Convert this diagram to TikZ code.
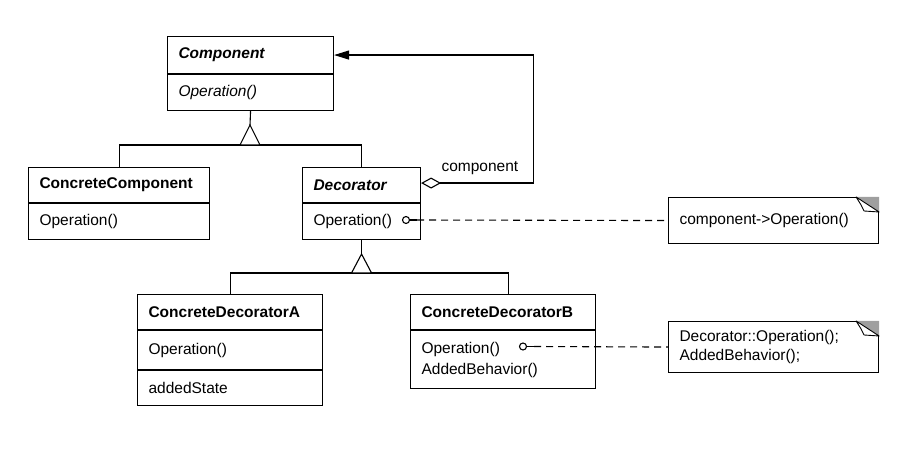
\documentclass[tikz,border=0pt]{standalone}
\usepackage{fontspec}
\setmainfont{Liberation Sans}
\usetikzlibrary{arrows.meta,calc}
\begin{document}
\begin{tikzpicture}[x=1pt,y=-1pt, line width=1.1pt,
  font=\fontsize{15.5}{18.6}\selectfont,
  cell/.style n args={2}{draw, anchor=north west, inner xsep=11pt, inner ysep=0pt,
    text width=#1, minimum height=#2, align=left},
  port/.style={circle, draw, fill=white, inner sep=0pt, minimum size=7pt},
  notelink/.style={dash pattern=on 7pt off 5pt},
  fold/.style={fill=gray!75}]
\useasboundingbox (0,0) rectangle (900,454);

% Component
\node[cell={144pt}{37}] (compT) at (167,36) {\bfseries\itshape Component};
\node[cell={144pt}{36}] (compO) at (compT.south west) {\itshape Operation()};

% ConcreteComponent
\node[cell={159pt}{35}] (ccT) at (28,167) {\bfseries ConcreteComponent};
\node[cell={159pt}{36}] (ccO) at (ccT.south west) {Operation()};

% Decorator
\node[cell={96pt}{35}] (decT) at (302,167) {\bfseries\itshape Decorator};
\node[cell={96pt}{36}] (decO) at (decT.south west) {Operation()};

% ConcreteDecoratorA
\node[cell={163pt}{35}] (cdaT) at (137,294) {\bfseries ConcreteDecoratorA};
\node[cell={163pt}{39}] (cdaO) at (cdaT.south west) {Operation()};
\node[cell={163pt}{35}] (cdaS) at (cdaO.south west) {addedState};

% ConcreteDecoratorB
\node[cell={163pt}{35}] (cdbT) at (410,294) {\bfseries ConcreteDecoratorB};
\node[cell={163pt}{58}] (cdbO) at (cdbT.south west) {Operation()\\[2.5pt]AddedBehavior()};

% Notes
\node[cell={188pt}{46}] (note1) at (668,197) {component->Operation()};
\node[cell={188pt}{51}] (note2) at (668,321) {Decorator::Operation();\\AddedBehavior();};
\foreach \n in {note1,note2}{
  \fill[fold] ($(\n.north east)+(-23,0)$) -- (\n.north east) -- ($(\n.north east)+(0,15)$) -- cycle;
  \draw[fill=white, line width=0.9pt, line join=round] ($(\n.north east)+(-23,0)$) -- ($(\n.north east)+(0,15)$)
     -- ($(\n.north east)+(-15,14)$) -- ($(\n.north east)+(-18,8)$) -- cycle;
}

% Inheritance 1
\coordinate (j1) at (250,145);
\draw (ccT.north) |- (j1) -| (decT.north);
\draw[fill=white] ($(j1)+(-10,0)$) -- ($(j1)+(0,-20)$) -- ($(j1)+(10,0)$) -- cycle;
\draw (compO.south) -- ($(j1)+(0,-20)$);

% Inheritance 2
\coordinate (j2) at (decO.south |- 0,273);
\draw (cdaT.north) |- (j2) -| ($(cdbT.north)+(5,0)$);
\draw[fill=white] ($(j2)+(-10,0)$) -- ($(j2)+(0,-19)$) -- ($(j2)+(10,0)$) -- cycle;
\draw (decO.south) -- ($(j2)+(0,-19)$);

% Aggregation
\coordinate (bend) at (533.5,0);
\draw[{Diamond[open,length=20pt,width=11pt]}-{Triangle[length=15pt,width=9pt]}]
  ($(decT.east)+(0,-2)$) -- ($(decT.east -| bend)+(0,-2)$) |- (compT.east);
\node[anchor=west, inner sep=0pt] (lbl) at (441,168) {component};

% Note links
\node[port] (p1) at (406,220) {};
\draw (p1.east) -- ++(7,0) coordinate (d1);
\draw[notelink] (d1) -- (note1.west);
\node[port] (p2) at (523,346.5) {};
\draw (p2.east) -- ++(7,0) coordinate (d2);
\draw[notelink] (d2) -- (note2.west);
\end{tikzpicture}
\end{document}
